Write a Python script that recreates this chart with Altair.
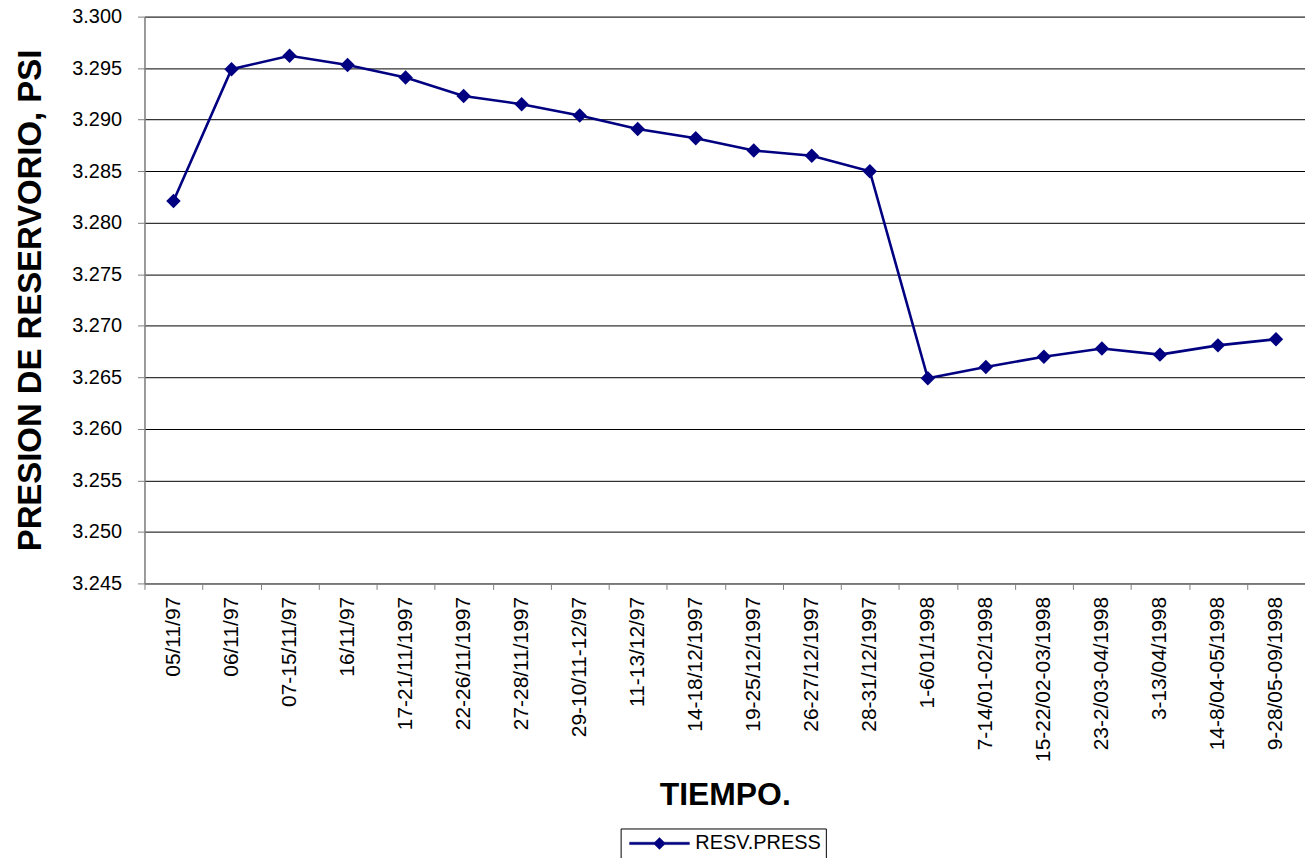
import altair as alt
import pandas as pd

categories = ["05/11/97", "06/11/97", "07-15/11/97", "16/11/97", "17-21/11/1997",
              "22-26/11/1997", "27-28/11/1997", "29-10/11-12/97", "11-13/12/97",
              "14-18/12/1997", "19-25/12/1997", "26-27/12/1997", "28-31/12/1997",
              "1-6/01/1998", "7-14/01-02/1998", "15-22/02-03/1998", "23-2/03-04/1998",
              "3-13/04/1998", "14-8/04-05/1998", "9-28/05-09/1998"]
pressure = [3.2821, 3.2949, 3.2962, 3.2953, 3.2941, 3.2923, 3.2915, 3.2904, 3.2891,
            3.2882, 3.2870, 3.2865, 3.2850, 3.2649, 3.2660, 3.2670, 3.2678, 3.2672,
            3.2681, 3.2687]
y_ticks = [3.245, 3.250, 3.255, 3.260, 3.265, 3.270, 3.275, 3.280, 3.285, 3.290, 3.295, 3.300]
series_name = "RESV.PRESS"

df = pd.DataFrame({"t": categories, "p": pressure, "s": [series_name] * len(categories)})

FONT = "Liberation Sans"
NAVY = "#000080"

x = alt.X("t:N", sort=categories,
          scale=alt.Scale(paddingInner=0, paddingOuter=0),
          axis=alt.Axis(title="TIEMPO.", labelAngle=270, labelAlign="right",
                        labelBaseline="middle", labelPadding=7, tickBand="extent",
                        tickSize=6, tickColor="#808080", domainColor="#808080",
                        domainWidth=1.5, labelFontSize=21, labelColor="black",
                        titleFontSize=32, titleFontWeight="bold", titlePadding=18,
                        labelFont=FONT, titleFont=FONT, titleColor="black",
                        grid=False, labelLimit=400))
y = alt.Y("p:Q", scale=alt.Scale(domain=[3.245, 3.300], zero=False, nice=False),
          axis=alt.Axis(title="PRESION DE RESERVORIO, PSI", values=y_ticks, format=".3f",
                        tickSize=7, tickColor="#808080", domainColor="#808080",
                        domainWidth=1.5, labelFontSize=20, labelColor="black",
                        labelPadding=16, titleFontSize=33, titleFontWeight="bold",
                        titlePadding=24, labelFont=FONT, titleFont=FONT, titleColor="black",
                        titleLimit=700,
                        grid=True, gridColor="black", gridWidth=1, gridOpacity=1))

# legend glyph: a line with a diamond in its middle (units scaled by sqrt(size)/2 = 6 px)
legend_symbol = "M-1,-0.2H9V0.2H-1Z M4,-1L5,0L4,1L3,0Z"

base = alt.Chart(df)
line = base.mark_line(strokeWidth=2.6).encode(
    x=x, y=y,
    color=alt.Color("s:N", scale=alt.Scale(range=[NAVY]),
                    legend=alt.Legend(title=None, orient="none", legendX=478, legendY=815,
                                      symbolType=legend_symbol, symbolSize=144,
                                      symbolFillColor=NAVY, symbolStrokeColor=NAVY,
                                      symbolStrokeWidth=0.5, symbolOpacity=1,
                                      labelFontSize=20, labelFont=FONT, labelColor="black",
                                      labelOffset=50, padding=5, fillColor="white",
                                      strokeColor="black", cornerRadius=0)))
pts = base.mark_point(shape="diamond", filled=True, size=210, opacity=1,
                      color=NAVY).encode(x=x, y=y)

chart = alt.layer(line, pts).properties(
    width=1165, height=569,
    autosize=alt.AutoSizeParams(type="none"),
    padding={"left": 137, "top": 7, "right": 0, "bottom": 274},
).configure_view(stroke="#808080", strokeWidth=1.5).configure(background="white")

chart.save("out.html", embed_options={"renderer": "svg", "actions": False})
